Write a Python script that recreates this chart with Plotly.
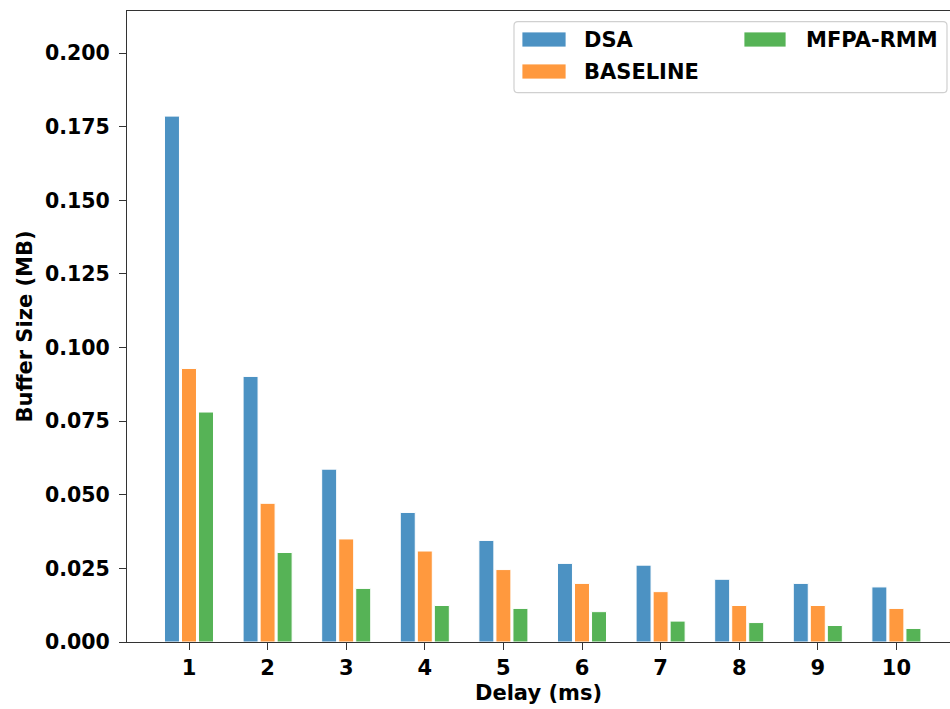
import plotly.graph_objects as go

delays = [1, 2, 3, 4, 5, 6, 7, 8, 9, 10]
series_names = ["DSA", "BASELINE", "MFPA-RMM"]
dsa = [0.1786, 0.0902, 0.0587, 0.0440, 0.0345, 0.0267, 0.0261, 0.0213, 0.0199, 0.0187]
baseline = [0.0929, 0.0471, 0.0350, 0.0309, 0.0246, 0.0199, 0.0171, 0.0124, 0.0124, 0.0114]
mfpa = [0.0781, 0.0304, 0.0182, 0.0124, 0.0114, 0.0103, 0.0071, 0.0066, 0.0056, 0.0046]
y_ticks = [0.0, 0.025, 0.05, 0.075, 0.1, 0.125, 0.15, 0.175, 0.2]
y_tick_labels = ["0.000", "0.025", "0.050", "0.075", "0.100", "0.125", "0.150", "0.175", "0.200"]

colors = ["#4c92c3", "#ff993e", "#56b356"]
FONT = "DejaVu Sans"
FS = 21

W, H = 950, 709
L, R, T, B = 127, 0, 11, 67
PW, PH = W - L - R, H - T - B


def px(x):
    return (x - L) / PW


def py(y):
    return (H - B - y) / PH


fig = go.Figure()
for name, vals, c in zip(series_names, [dsa, baseline, mfpa], colors):
    fig.add_trace(go.Bar(
        x=delays, y=vals, name=name,
        marker=dict(color=c, line=dict(color="white", width=1)),
        showlegend=False,
    ))

# custom legend (matplotlib-style)
x0, x1, y0, y1 = 514, 947, 21.7, 92.7
r = 4
rx, ry = r / PW, r / PH
X0, X1, Y0, Y1 = px(x0), px(x1), py(y0), py(y1)
path = (f"M {X0+rx},{Y0} L {X1-rx},{Y0} Q {X1},{Y0} {X1},{Y0-ry} "
        f"L {X1},{Y1+ry} Q {X1},{Y1} {X1-rx},{Y1} L {X0+rx},{Y1} "
        f"Q {X0},{Y1} {X0},{Y1+ry} L {X0},{Y0-ry} Q {X0},{Y0} {X0+rx},{Y0} Z")
shapes = [dict(type="path", path=path, xref="paper", yref="paper",
               line=dict(color="#d0d0d0", width=1.2), fillcolor="rgba(255,255,255,0.8)")]
annotations = []
entries = [(0, 522, 566, 582, 39.5), (1, 522, 566, 582, 71.5), (2, 744, 786, 804, 39.5)]
for i, a, b, tx, cy in entries:
    shapes.append(dict(type="rect", xref="paper", yref="paper",
                       x0=px(a), x1=px(b), y0=py(cy - 7.5), y1=py(cy + 7.5),
                       fillcolor=colors[i], line=dict(color="white", width=0.8)))
    annotations.append(dict(text=series_names[i], xref="paper", yref="paper",
                            x=px(tx), y=py(cy), xanchor="left", yanchor="middle",
                            showarrow=False,
                            font=dict(family=FONT, size=FS, color="black", weight="bold")))

fig.update_layout(
    width=W, height=H,
    margin=dict(l=L, r=R, t=T, b=B, pad=0, autoexpand=False),
    plot_bgcolor="white", paper_bgcolor="white",
    barmode="group", bargap=0.35, bargroupgap=0.12,
    font=dict(family=FONT, size=FS, color="black", weight="bold"),
    shapes=shapes, annotations=annotations,
    xaxis=dict(
        range=[1 - 62 / 78.6, 1 + (W - 189) / 78.6],
        tickmode="array", tickvals=delays, ticktext=[str(d) for d in delays],
        showline=True, linecolor="#333", linewidth=1.3, mirror=True,
        ticks="outside", ticklen=7, tickwidth=1.3, tickcolor="#333",
        showgrid=False, zeroline=False, automargin=False,
        tickfont=dict(family=FONT, size=FS, color="black", weight="bold"),
        title=dict(text="Delay (ms)", standoff=5,
                   font=dict(family=FONT, size=FS, color="black", weight="bold")),
    ),
    yaxis=dict(
        range=[0, 0.2143],
        tickmode="array", tickvals=y_ticks, ticktext=y_tick_labels,
        showline=True, linecolor="#333", linewidth=1.3,
        ticks="outside", ticklen=7, tickwidth=1.3, tickcolor="#333",
        ticklabelstandoff=5,
        showgrid=False, zeroline=False, automargin=False,
        tickfont=dict(family=FONT, size=20.5, color="black", weight="bold"),
        title=dict(text="Buffer Size (MB)", standoff=6,
                   font=dict(family=FONT, size=FS, color="black", weight="bold")),
    ),
)

fig.write_html(
    "out.html",
    config={"displayModeBar": False},
    post_script="document.body.style.margin='0';document.body.style.padding='0';"
                "document.body.style.overflow='hidden';",
)
